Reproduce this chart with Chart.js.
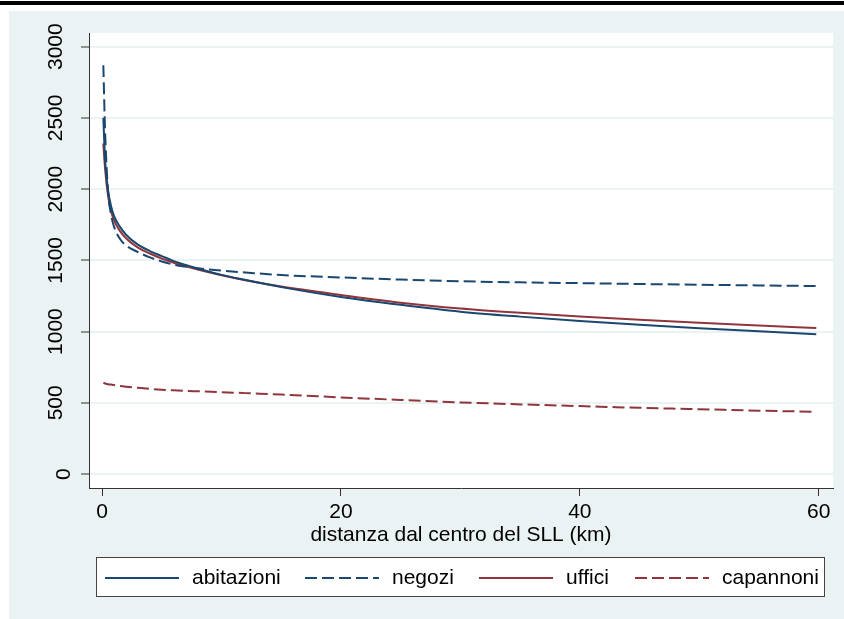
<!DOCTYPE html>
<html>
<head>
<meta charset="utf-8">
<script src="https://cdn.jsdelivr.net/npm/chart.js@4.4.1/dist/chart.umd.min.js"></script>
<style>
body{margin:0;background:#fff;}
canvas{display:block;}
</style>
</head>
<body>
<canvas id="prezziChart" width="844" height="619"></canvas>
<script>
// distanza dal centro del SLL (km)
const distanze=[0.1,0.25,0.5,0.75,1,1.5,2,3,4,5,6,7,8,10,12,15,20,25,30,35,40,45,50,55,59.8];
const abitazioni=[2500,2200,1990,1880,1810,1735,1680,1610,1565,1530,1495,1468,1443,1398,1362,1312,1243,1188,1140,1105,1075,1048,1024,1002,982];
const negozi=[2870,2400,1980,1820,1735,1650,1605,1558,1521,1492,1470,1456,1445,1428,1415,1397,1380,1365,1353,1346,1340,1334,1329,1324,1320];
const uffici=[2320,2140,1950,1845,1780,1705,1655,1590,1548,1512,1483,1458,1435,1395,1360,1316,1257,1203,1162,1132,1106,1083,1062,1043,1025];
const capannoni=[640,636,631,628,625,618,613,605,598,592,588,584,581,575,568,558,538,520,503,489,477,465,455,445,437];
const xTicks=[0,20,40,60];
const yTicks=[0,500,1000,1500,2000,2500,3000];

const NAVY='#1a476f',MAROON='#90353b',BG='#eaf2f3';
const FONT='"Liberation Sans", Arial, sans-serif';

function serie(label,values,color,dash){
    return {label:label,data:distanze.map((x,i)=>({x:x,y:values[i]})),borderColor:color,borderWidth:2,
        borderDash:dash,pointRadius:0,fill:false,cubicInterpolationMode:'monotone'};
}

// sfondo del grafico, area bianca del plot
const sfondo={
    id:'sfondo',
    beforeDraw(chart){
        const c=chart.ctx,a=chart.chartArea;
        c.save();
        c.fillStyle='#fff';c.fillRect(0,0,chart.width,chart.height);
        c.fillStyle='#000';c.fillRect(0,1,chart.width,4);
        c.fillStyle=BG;c.fillRect(9,11,chart.width-9,chart.height-11);
        c.fillStyle='#fff';c.fillRect(a.left,a.top,a.right-a.left,a.bottom-a.top);
        c.restore();
    }
};

// etichette verticali dell'asse y e legenda in basso
const etichette={
    id:'etichette',
    afterDraw(chart){
        const c=chart.ctx,y=chart.scales.y;
        c.save();
        c.font='21px '+FONT;c.fillStyle='#000';
        c.textAlign='center';c.textBaseline='middle';
        yTicks.forEach(v=>{
            const py=y.getPixelForValue(v),lab=String(v);
            c.save();
            c.translate(lab.length>1?56:64,py);
            c.rotate(-Math.PI/2);
            c.fillText(lab,0,0);
            c.restore();
        });
        // legenda
        c.fillStyle='#fff';c.fillRect(96,557,729,40);
        c.strokeStyle='#444';c.lineWidth=1;c.strokeRect(96.5,557.5,728,39);
        const pos=[[105,192],[305,392],[479,566],[635,722]];
        chart.data.datasets.forEach((ds,i)=>{
            const [lx,tx]=pos[i];
            c.beginPath();
            c.strokeStyle=ds.borderColor;c.lineWidth=2;
            c.setLineDash(ds.borderDash||[]);
            c.moveTo(lx,578);c.lineTo(lx+74,578);c.stroke();
            c.setLineDash([]);
            c.fillStyle='#000';c.textAlign='left';
            c.fillText(ds.label,tx,578);
        });
        c.restore();
    }
};

function drawPrezziChart(){
    const ctx=document.getElementById("prezziChart").getContext("2d");
    if(window.prezziChart instanceof Chart)window.prezziChart.destroy();
    window.prezziChart=new Chart(ctx,{
        type:'line',
        data:{datasets:[
            serie('abitazioni',abitazioni,NAVY,[]),
            serie('negozi',negozi,NAVY,[12,5]),
            serie('uffici',uffici,MAROON,[]),
            serie('capannoni',capannoni,MAROON,[12,5])
        ]},
        options:{
            responsive:false,animation:false,
            layout:{padding:{left:0,right:11,top:33,bottom:71}},
            plugins:{legend:{display:false},tooltip:{enabled:false}},
            scales:{
                x:{type:'linear',min:-1.1,max:61.2,
                    afterBuildTicks:s=>{s.ticks=xTicks.map(v=>({value:v}));},
                    afterFit:s=>{s.height=60;},
                    grid:{drawOnChartArea:false,drawTicks:true,tickLength:8,tickColor:'#333',tickWidth:1},
                    border:{display:true,color:'#333',width:1},
                    ticks:{font:{family:FONT,size:21},color:'#000',padding:4,maxRotation:0},
                    title:{display:true,text:'distanza dal centro del SLL (km)',font:{family:FONT,size:21},color:'#000',padding:0}
                },
                y:{type:'linear',min:-98,max:3096,
                    afterBuildTicks:s=>{s.ticks=yTicks.map(v=>({value:v}));},
                    afterFit:s=>{s.width=89;},
                    grid:{color:BG,lineWidth:2,drawTicks:true,tickLength:8,tickColor:'#333',tickWidth:1},
                    border:{display:true,color:'#333',width:1},
                    ticks:{display:false}
                }
            }
        },
        plugins:[sfondo,etichette]
    });
}

drawPrezziChart();
</script>
</body>
</html>
